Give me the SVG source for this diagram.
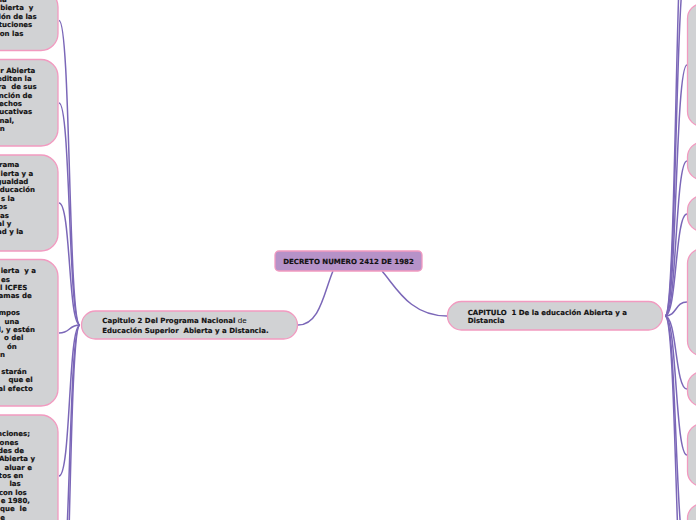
<svg xmlns="http://www.w3.org/2000/svg" width="696" height="520" viewBox="0 0 696 520">
<style>
.n{fill:#d1d2d4;stroke:#f29ac0;stroke-width:1.3}
.c{fill:#b692c8;stroke:#f29ac0;stroke-width:1.3}
.t{font-family:"DejaVu Sans",Verdana,sans-serif;font-weight:bold;font-size:7px;fill:#111;stroke:#111;stroke-width:0.15}
.k{fill:none;stroke:#7b67b8;stroke-width:1.5}
</style>
<rect width="696" height="520" fill="#fff"/>
<g id="connectors">
<path class="k" d="M333,271 C324,292 320,325 298,325"/>
<path class="k" d="M382,271 C396,287 410,316 447,316"/>
<path class="k" d="M80,325 C68,325 71,20.5 59,20.5"/>
<path class="k" d="M80,325 C68,325 71,103 59,103"/>
<path class="k" d="M80,325 C68,325 71,203 59,203"/>
<path class="k" d="M80,325 C68,325 71,333 59,333"/>
<path class="k" d="M80,325 C68,325 71,476 59,476"/>
<path class="k" d="M80,325 C68,325 71,600 59,600"/>
<path class="k" d="M80,325 C68,325 71,700 59,700"/>
<path class="k" d="M665,316 C677,316 675,65 687,65"/>
<path class="k" d="M665,316 C677,316 675,161 687,161"/>
<path class="k" d="M665,316 C677,316 675,214 687,214"/>
<path class="k" d="M665,316 C677,316 675,302 687,302"/>
<path class="k" d="M665,316 C677,316 675,389 687,389"/>
<path class="k" d="M665,316 C677,316 675,455 687,455"/>
<path class="k" d="M665,316 C677,316 675,560 687,560"/>
<path class="k" d="M665,316 C677,316 675,640 687,640"/>
<path class="k" d="M665,316 C677,316 675,-40 687,-40"/>
<path class="k" d="M665,316 C677,316 675,-120 687,-120"/>
</g>
<g id="center">
<rect class="c" x="275" y="251" width="147" height="20" rx="4"/>
<text class="t" x="348.5" y="263.8" text-anchor="middle">DECRETO NUMERO 2412 DE 1982</text>
</g>
<g id="cap2">
<rect class="n" x="81.5" y="311" width="216" height="28" rx="14"/>
<text class="t" x="102.3" y="323.2">Capitulo 2 Del Programa Nacional <tspan style="font-family:'Liberation Sans',Arial,sans-serif;font-weight:normal;font-size:8px;stroke:none">de</tspan></text>
<text class="t" x="102.3" y="332.6">Educación Superior&#160; Abierta y a Distancia.</text>
</g>
<g id="cap1">
<rect class="n" x="447.5" y="301.5" width="215" height="28.5" rx="14"/>
<text class="t" x="467.7" y="314.6">CAPITULO&#160; 1 De la educación Abierta y a</text>
<text class="t" x="467.7" y="323.2">Distancia</text>
</g>
<g id="l1">
<rect class="n" x="-150" y="-10" width="208" height="60.5" rx="17"/>
<text class="t" y="1.9" x="-5.3">ma</text>
<text class="t" y="10.3" x="0.2">bierta&#160; y</text>
<text class="t" y="18.7" x="-1.4">ión de las</text>
<text class="t" y="27.1" x="-1.3">tuciones</text>
<text class="t" y="35.5" x="-0.2">on las</text>
</g>
<g id="l2">
<rect class="n" x="-150" y="59.5" width="208" height="86.5" rx="17"/>
<text class="t" y="72.5" x="0.3">r Abierta</text>
<text class="t" y="80.9" x="-3.1">editen la</text>
<text class="t" y="89.2" x="-1.9">ra&#160; de sus</text>
<text class="t" y="97.6" x="-1.2">nción de</text>
<text class="t" y="105.9" x="-0.9">echos</text>
<text class="t" y="114.3" x="-0.8">ucativas</text>
<text class="t" y="122.6" x="-0.5">nal,</text>
<text class="t" y="131" x="-0.3">n</text>
</g>
<g id="l3">
<rect class="n" x="-150" y="155" width="208" height="96" rx="17"/>
<text class="t" y="167.2" x="-0.9">rama</text>
<text class="t" y="175.6" x="0.5">ierta y a</text>
<text class="t" y="184" x="-3.5">gualdad</text>
<text class="t" y="192.4" x="-0.2">ducación</text>
<text class="t" y="200.8" x="1">s la</text>
<text class="t" y="209.2" x="-1.7">os</text>
<text class="t" y="217.6" x="0.1">as</text>
<text class="t" y="226" x="-2.8">al y</text>
<text class="t" y="234.4" x="-3">ad y la</text>
</g>
<g id="l4">
<rect class="n" x="-150" y="259.5" width="208" height="146.5" rx="17"/>
<text class="t" y="273.3" x="0.7">ierta&#160; y a</text>
<text class="t" y="281.7" x="1.1">es</text>
<text class="t" y="290.1" x="0.1">l ICFES</text>
<text class="t" y="298.4" x="-1.4">amas de</text>
<text class="t" y="315.2" x="-1.3">mpos</text>
<text class="t" y="323.6" x="4.6">una</text>
<text class="t" y="331.9" x="-1.5">l, y estén</text>
<text class="t" y="340.3" x="4">o del</text>
<text class="t" y="348.7" x="6.9">ón</text>
<text class="t" y="357.1" x="0">n</text>
<text class="t" y="373.9" x="1.3">starán</text>
<text class="t" y="382.2" x="8.4">que el</text>
<text class="t" y="390.6" x="-1.7">al efecto</text>
</g>
<g id="l5">
<rect class="n" x="-150" y="415" width="208" height="122" rx="17"/>
<text class="t" y="436.2" x="-3">nciones;</text>
<text class="t" y="444.5" x="-0.4">ones</text>
<text class="t" y="452.9" x="-2.1">des de</text>
<text class="t" y="461.2" x="-1.1">Abierta y</text>
<text class="t" y="469.6" x="4.5">aluar e</text>
<text class="t" y="477.9" x="-1.2">tos en</text>
<text class="t" y="486.3" x="9.4">las</text>
<text class="t" y="494.6" x="-1.1">con los</text>
<text class="t" y="503" x="0.7">e 1980,</text>
<text class="t" y="511.3" x="0">que&#160; le</text>
<text class="t" y="519.7" x="0.3">e</text>
</g>
<g id="r1"><rect class="n" x="687.5" y="3.5" width="200" height="123" rx="15"/></g>
<g id="r2"><rect class="n" x="687.5" y="142" width="200" height="38" rx="15"/></g>
<g id="r3"><rect class="n" x="687.5" y="195.5" width="200" height="36" rx="15"/></g>
<g id="r4"><rect class="n" x="687.5" y="248.5" width="200" height="107.5" rx="15"/></g>
<g id="r5"><rect class="n" x="687.5" y="371.5" width="200" height="35" rx="15"/></g>
<g id="r6"><rect class="n" x="687.5" y="423.5" width="200" height="63" rx="15"/></g>
<g id="r7"><rect class="n" x="687.5" y="503.5" width="200" height="110" rx="15"/></g>
</svg>
